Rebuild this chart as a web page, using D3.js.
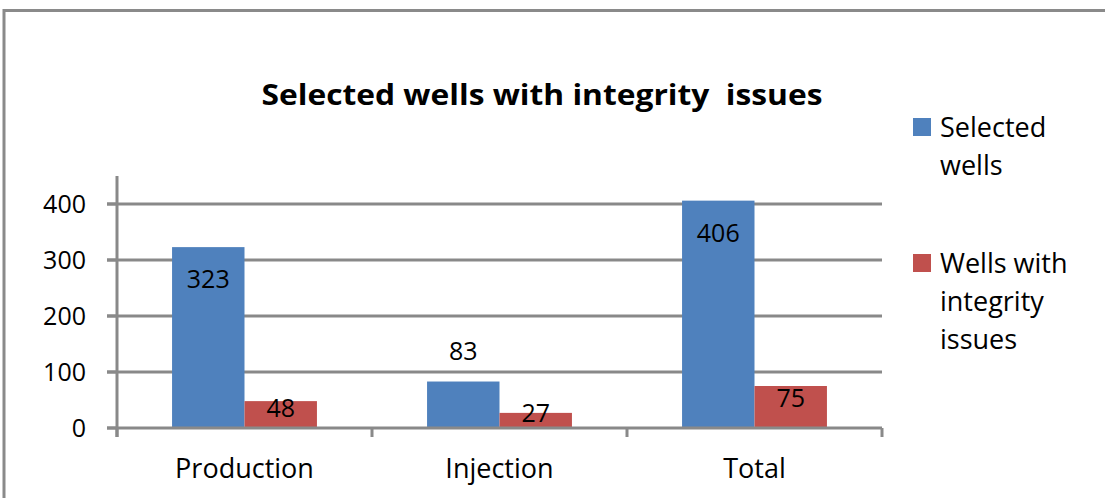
<!DOCTYPE html>
<html>
<head>
<meta charset="utf-8">
<script src="https://cdn.jsdelivr.net/npm/d3@7"></script>
<style>
  body { margin: 0; background: #fff; }
  svg text { font-family: "Open Sans", Lato, sans-serif; fill: #000; }
  .grid line, .axis line, .axis path { stroke: #898989; stroke-width: 3; }
</style>
</head>
<body>
<div id="chart-area"></div>
<script>
// chart values
var categories = ["Production", "Injection", "Total"];
var seriesNames = ["Selected wells", "Wells with integrity issues"];
var selectedWells = [323, 83, 406];
var integrityIssues = [48, 27, 75];
var yTicks = [0, 100, 200, 300, 400];

var legendLines = [["Selected", "wells"], ["Wells with", "integrity", "issues"]];
var colors = ["#4F81BD", "#C0504D"];

var width = 1105, height = 498;

var svg = d3.select("#chart-area")
    .append("svg")
        .attr("width", width)
        .attr("height", height);

// outer frame (only top and left visible)
svg.append("path")
    .attr("d", "M4,498 V10.5 H1105")
    .attr("fill", "none")
    .attr("stroke", "#8a8a8a")
    .attr("stroke-width", 3);

var x0 = d3.scaleBand()
    .domain(categories)
    .range([117, 882]);

var x1 = d3.scaleBand()
    .domain(seriesNames)
    .range([0, x0.bandwidth()])
    .paddingOuter(0.76);

var y = d3.scaleLinear()
    .domain([0, 450])
    .range([428, 176]);

// gridlines
svg.append("g")
    .attr("class", "grid")
    .selectAll("line")
    .data(yTicks.slice(1))
    .enter()
    .append("line")
        .attr("x1", 107)
        .attr("x2", 882)
        .attr("y1", function(d){ return y(d); })
        .attr("y2", function(d){ return y(d); });

// bars
var rows = categories.map(function(c, i){
    return [
        { cat: c, series: seriesNames[0], value: selectedWells[i], k: 0 },
        { cat: c, series: seriesNames[1], value: integrityIssues[i], k: 1 }
    ];
});

var groups = svg.selectAll(".cat")
    .data(rows)
    .enter()
    .append("g")
        .attr("class", "cat")
        .attr("transform", function(d){ return "translate(" + x0(d[0].cat) + ",0)"; });

groups.selectAll("rect")
    .data(function(d){ return d; })
    .enter()
    .append("rect")
        .attr("x", function(d){ return x1(d.series); })
        .attr("width", x1.bandwidth())
        .attr("y", function(d){ return y(d.value); })
        .attr("height", function(d){ return y(0) - y(d.value); })
        .attr("fill", function(d){ return colors[d.k]; });

// data labels
groups.selectAll("text")
    .data(function(d){ return d; })
    .enter()
    .append("text")
        .attr("x", function(d){ return x1(d.series) + x1.bandwidth() / 2; })
        .attr("y", function(d){
            var h = y(0) - y(d.value);
            var off;
            if (d.k === 0) off = h < 60 ? -31 : 32;
            else off = Math.min(12, h / 2 - 7);
            return y(d.value) + off;
        })
        .attr("dy", "0.36em")
        .attr("text-anchor", "middle")
        .style("font-size", "25px")
        .text(function(d){ return d.value; });

// y axis
var yAxis = svg.append("g").attr("class", "axis");
yAxis.append("line")
    .attr("x1", 117).attr("x2", 117)
    .attr("y1", y(450)).attr("y2", 437);
yAxis.selectAll(".tick")
    .data(yTicks)
    .enter()
    .append("line")
        .attr("x1", 107).attr("x2", 117)
        .attr("y1", function(d){ return y(d); })
        .attr("y2", function(d){ return y(d); });
yAxis.selectAll("text")
    .data(yTicks)
    .enter()
    .append("text")
        .attr("x", 86)
        .attr("y", function(d){ return y(d); })
        .attr("dy", "0.36em")
        .attr("text-anchor", "end")
        .style("font-size", "25px")
        .text(function(d){ return d; });

// x axis
var xAxis = svg.append("g").attr("class", "axis");
xAxis.append("line")
    .attr("x1", 107).attr("x2", 882)
    .attr("y1", y(0)).attr("y2", y(0));
xAxis.selectAll(".tk")
    .data(categories.concat(["end"]))
    .enter()
    .append("line")
        .attr("x1", function(d, i){ return 117 + i * x0.step(); })
        .attr("x2", function(d, i){ return 117 + i * x0.step(); })
        .attr("y1", y(0))
        .attr("y2", 437);
xAxis.selectAll("text")
    .data(categories)
    .enter()
    .append("text")
        .attr("x", function(d){ return x0(d) + x0.bandwidth() / 2; })
        .attr("y", 478)
        .attr("text-anchor", "middle")
        .style("font-size", "27px")
        .text(function(d){ return d; });

// title
svg.append("text")
    .attr("x", 542)
    .attr("y", 105)
    .attr("text-anchor", "middle")
    .style("font-size", "29px")
    .style("font-weight", "bold")
    .attr("xml:space", "preserve")
    .attr("textLength", 561)
    .attr("lengthAdjust", "spacingAndGlyphs")
    .text("Selected wells with integrity  issues");

// legend
var legend = svg.selectAll(".legend")
    .data(seriesNames)
    .enter()
    .append("g")
        .attr("class", "legend")
        .attr("transform", function(d, i){ return "translate(913," + (118 + i * 136) + ")"; });

legend.append("rect")
    .attr("width", 18)
    .attr("height", 18)
    .attr("fill", function(d, i){ return colors[i]; });

legend.append("text")
    .attr("x", 27)
    .style("font-size", "27px")
    .selectAll("tspan")
    .data(function(d, i){ return legendLines[i]; })
    .enter()
    .append("tspan")
        .attr("x", 27)
        .attr("y", function(d, j){ return 19 + j * 38; })
        .text(function(d){ return d; });
</script>
</body>
</html>
